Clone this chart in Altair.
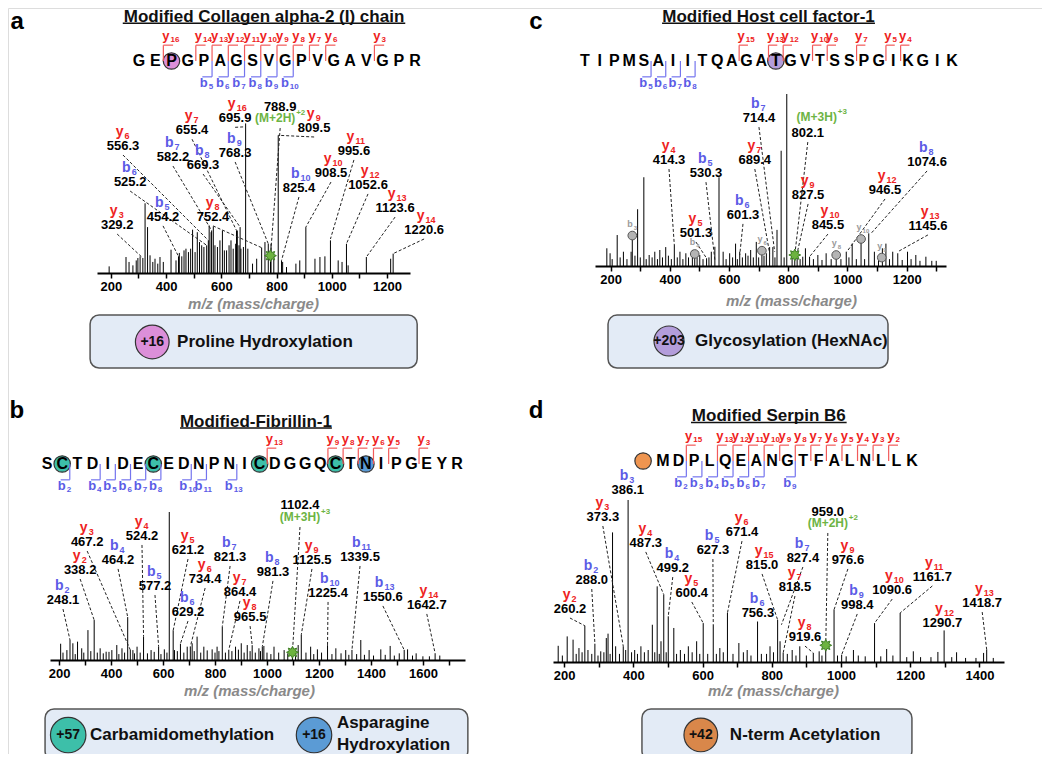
import altair as alt
import pandas as pd

W, H = 1034, 746
FONT = "Liberation Sans, Arial, DejaVu Sans, sans-serif"
RED, BLUE, GREEN = "#ee2222", "#5b5be6", "#6db444"
RED_BR, BLUE_BR = "#f25a5a", "#7474ee"
PINK, PURPLE, TEAL, NBLUE, ORANGE, ORANGE2 = "#dc8fd9", "#b39ddb", "#3dbfa9", "#5b9bd5", "#d9874a", "#ef9550"
STAR = ("M0,-1L0.22,-0.53L0.71,-0.71L0.53,-0.22L1,0L0.53,0.22L0.71,0.71L0.22,0.53"
        "L0,1L-0.22,0.53L-0.71,0.71L-0.53,0.22L-1,0L-0.53,-0.22L-0.71,-0.71L-0.22,-0.53Z")

# ---------------- panel a : Collagen alpha-2 (I) chain ----------------
A_TITLE = "Modified Collagen alpha-2 (I) chain"
A_SEQ = "GEPGPAGSVGPVGAVGPR"
A_MODS = [(2, PINK)]
A_Y_IONS = [16, 14, 13, 12, 11, 10, 9, 8, 7, 6, 3]
A_B_IONS = [5, 6, 7, 8, 9, 10]
A_PEAKS = [(194, 3.9), (255, 9.4), (266, 6.5), (280, 4.5), (292, 7.4), (298, 8.8), (306, 9.8), (316, 8.8),
           (324, 41), (333, 27), (342, 10.4), (352, 6.5), (360, 8.4), (370, 5.5), (378, 9.4), (390, 6.5),
           (418, 13.7), (436, 7.4), (445, 9.8), (448, 11.8), (457, 9.8), (465, 13.3), (472, 14.3), (481, 12.3),
           (489, 14.3), (496, 25.5), (505, 12.3), (513, 24), (521, 18.2), (529, 16.3), (537, 15.3), (547, 16.3),
           (553, 19.2), (556, 28), (563, 24), (565, 25), (571, 27.4), (577, 16.3), (586, 15.3), (595, 19.2),
           (604, 25), (611, 13.3), (619, 13.3), (628, 16.3), (635, 19.2), (643, 14.3), (652, 17.2), (655, 25),
           (658, 25), (664, 16.3), (668, 27), (671, 14.3), (680, 15.3), (688, 88), (696, 14.3), (713, 5.5),
           (728, 8.4), (746, 14.9), (758, 18.2), (770, 17.2), (778, 9), (780, 17.2), (790, 10.4), (806, 81),
           (818, 7.4), (822, 6.5), (836, 3.5), (870, 5.5), (884, 7.4), (906, 27), (939, 8.4), (957, 9.4),
           (975, 9.8), (995, 19.2), (1023, 7.4), (1037, 6.5), (1053, 17.2), (1059, 4.5), (1125, 9.4),
           (1213, 8.4), (1222, 11.4)]
# (ion, labelled m/z, peak m/z, peak intensity)
A_ANN = [("y6", "556.3", 553, 19.2), ("b7", "582.2", 565, 25), ("b8", "669.3", 668, 27),
         ("b9", "768.3", 770, 17.2), ("y7", "655.4", 655, 25), ("y16", "695.9", 688, 86),
         ("M2", "788.9", 778, 10.2), ("y9", "809.5", 806, 81), ("y11", "995.6", 995, 20),
         ("y10", "908.5", 906, 27), ("b10", "825.4", 818, 7.4), ("y12", "1052.6", 1053, 17.2),
         ("b6", "525.2", 547, 16.3), ("y13", "1123.6", 1125, 9.4), ("y14", "1220.6", 1222, 11.4),
         ("b5", "454.2", 445, 9.8), ("y8", "752.4", 746, 14.9), ("y3", "329.2", 316, 8.8)]
A_ANN_POS = [(244, 74.7), (425, 68.2), (534, 63.5), (650, 70.6), (494, 84), (650, 91),
             (813, 97.6), (936, 85.3), (1080, 71.8), (997, 58.8), (881, 50), (1131, 51.8),
             (270, 53.5), (1229, 38.2), (1334, 25.3), (389, 33), (570, 33), (223, 28.2)]
A_BOX = (125, 1309, -24.7, -55.9)
A_PTM = [("+16", PINK)]
A_PTM_POS = [(350, -40.6)]
A_PTM_TXT = [(440, -40.6, "Proline Hydroxylation")]

# ---------------- panel c : Host cell factor-1 ----------------
C_TITLE = "Modified Host cell factor-1"
C_SEQ = "TIPMSAIITQAGATGVTSSPGIKGIK"
C_MODS = [(13, PURPLE)]
C_Y_IONS = [15, 13, 12, 10, 9, 7, 5, 4]
C_B_IONS = [5, 6, 7, 8]
C_PEAKS = [(187, 10.3), (198, 7.4), (205, 4), (222, 18), (232, 5), (243, 8.3), (255, 4), (269, 8.3),
           (273, 17.7), (282, 6), (291, 33), (300, 5), (312, 51.6), (320, 4), (330, 6.4), (340, 5),
           (349, 8.3), (358, 4), (366, 9.3), (375, 5), (386, 11), (395, 6), (405, 4), (415, 12.2),
           (425, 5), (434, 8.3), (444, 4), (454, 7.4), (463, 5), (476, 9.3), (484, 7), (492, 5),
           (501, 6.4), (512, 4), (524, 4.5), (532, 5), (540, 8.3), (552, 11.2), (566, 51.6), (580, 8.3),
           (590, 4), (602, 7.4), (612, 5), (622, 13), (628, 4), (636, 8.3), (645, 5), (656, 7.4),
           (664, 6), (673, 9.3), (682, 5), (692, 14), (700, 5), (711, 8.9), (718, 6), (726, 7.4),
           (737, 11), (748, 11), (755, 5), (762, 21), (776, 67), (786, 5), (795, 100), (813, 8.3),
           (822, 6), (830, 7.4), (840, 4), (849, 5.4), (858, 10.3), (872, 5.4), (885, 4), (900, 6.4),
           (914, 3.5), (928, 7.4), (945, 4), (962, 6.4), (978, 4), (996, 8.3), (1005, 5), (1016, 13),
           (1030, 4), (1046, 15.7), (1058, 4), (1072, 19), (1091, 8.3), (1105, 4), (1118, 10.3),
           (1130, 13), (1142, 4), (1153, 8.3), (1170, 7.4), (1185, 3.5), (1203, 8.3), (1215, 4),
           (1231, 6.4), (1245, 3), (1265, 5.4), (1285, 3), (1300, 3)]
C_ANN = [("b7", "714.4", 754, 8.3), ("M3", "802.1", 822, 6.4), ("y4", "414.3", 415, 12.2),
         ("b5", "530.3", 552, 3.5), ("y7", "689.4", 737, 7.4), ("b8", "1074.6", 1080, 19),
         ("y9", "827.5", 830, 7.4), ("y12", "946.5", 998, 8.3), ("b6", "601.3", 636, 6.4),
         ("y10", "845.5", 872, 5.4), ("y13", "1145.6", 1170, 8.3), ("y5", "501.3", 524, 4.5)]
C_ANN_POS = [(701, 86), (866, 77.3), (397, 61.6), (522, 54), (687, 61.6), (1269, 60.5),
             (867, 41.3), (1127, 44.2), (647, 29.7), (934, 23.8), (1272, 23.3), (488, 19.2)]
C_GRAY = [("b3", 273, 17.7), ("b4", 484, 7), ("y6", 711, 8.9), ("y8", 962, 6.4), ("y10", 1046, 15.7), ("y9", 1116, 4.9)]
C_BOX = (191, 1137, -28.5, -59.3)
C_PTM = [("+203", PURPLE)]
C_PTM_POS = [(397, -43.6)]
C_PTM_TXT = [(485, -43.6, "Glycosylation (HexNAc)")]

# ---------------- panel b : Fibrillin-1 ----------------
B_TITLE = "Modified-Fibrillin-1"
B_SEQ = "SCTDIDECEDNPNICDGGQCTNIPGEYR"
B_MODS = [(1, TEAL), (7, TEAL), (14, TEAL), (19, TEAL), (21, NBLUE)]
B_Y_IONS = [13, 9, 8, 7, 6, 5, 3]
B_B_IONS = [2, 4, 5, 6, 7, 8, 10, 11, 13]
B_PEAKS = [(206, 11), (215, 5), (230, 6.7), (242, 13.5), (253, 11.3), (262, 4), (271, 12.4), (287, 7.9),
           (295, 5), (311, 20.2), (322, 6), (335, 27), (347, 5), (358, 7.9), (370, 4.5), (381, 5.6),
           (392, 5.5), (403, 6.7), (422, 10.1), (430, 4), (442, 7.9), (452, 5), (464, 29), (474, 6.8),
           (484, 6.7), (490, 4.5), (500, 9), (512, 5), (525, 15.8), (540, 4.5), (554, 6.7), (566, 5.5),
           (583, 9), (592, 4), (605, 7.2), (615, 5), (624, 100), (639, 20), (644, 6.7), (655, 6),
           (667, 11), (680, 5), (693, 9), (705, 9), (712, 11.3), (720, 6), (731, 15.8), (745, 5),
           (757, 9), (770, 6.5), (789, 7.2), (800, 5), (808, 9), (815, 6), (828, 22.5), (840, 5),
           (853, 6.8), (865, 6), (879, 9), (890, 7), (901, 11.3), (912, 5), (924, 10.1), (935, 6),
           (943, 10), (955, 5), (969, 7.9), (975, 6), (982, 9), (988, 9.5), (1000, 5), (1015, 4),
           (1027, 9), (1045, 5), (1066, 6.7), (1080, 4.5), (1098, 5.2), (1110, 6), (1120, 10.1),
           (1132, 17), (1150, 5), (1168, 9), (1180, 4), (1194, 7.2), (1210, 5), (1233, 10), (1250, 4),
           (1265, 7.9), (1285, 4.5), (1303, 6.7), (1315, 3.5), (1327, 6.8), (1345, 4), (1361, 13.5),
           (1375, 3.5), (1393, 6.7), (1410, 3), (1438, 7.2), (1455, 3.5), (1474, 9.5), (1490, 3),
           (1509, 4.5), (1528, 6.8), (1541, 7.2), (1560, 3), (1574, 4.5), (1600, 2.5), (1625, 2.5),
           (1647, 4.5), (1665, 3)]
B_ANN = [("M3", "1102.4", 1098, 5.2), ("y3", "467.2", 474, 6.8), ("y4", "524.2", 525, 15.8),
         ("y2", "338.2", 335, 27), ("b4", "464.2", 464, 29), ("y5", "621.2", 639, 20),
         ("b7", "821.3", 828, 22.5), ("y6", "734.4", 705, 9), ("b5", "577.2", 583, 9),
         ("b8", "981.3", 982, 9), ("y9", "1125.5", 1132, 17), ("b11", "1339.5", 1327, 6.8),
         ("y7", "864.4", 853, 6.8), ("b10", "1225.4", 1233, 10), ("b13", "1550.6", 1528, 6.8),
         ("y14", "1642.7", 1647, 4.5), ("b2", "248.1", 242, 13.5), ("b6", "629.2", 667, 11),
         ("y8", "965.5", 943, 10)]
B_ANN_POS = [(1127, 104.7), (308, 79.7), (519, 83.8), (281, 60.8), (427, 67.6), (696, 74.3),
             (858, 69.6), (762, 54.7), (569, 50), (1023, 59.5), (1173, 67.6), (1358, 69.6),
             (896, 46), (1235, 45.3), (1446, 42.6), (1615, 37.2), (215, 40.5), (696, 32.4), (935, 29)]
B_BOX = (146, 1773, -33.1, -67.6)
B_PTM = [("+57", TEAL), ("+16", NBLUE)]
B_PTM_POS = [(235, -50.7), (1181, -50.7)]
B_PTM_TXT = [(319, -50.7, "Carbamidomethylation"), (1269, -42.6, "Asparagine"), (1269, -57.4, "Hydroxylation")]

# ---------------- panel d : Serpin B6 ----------------
D_TITLE = "Modified Serpin B6"
D_SEQ = "MDPLQEANGTFALNLLK"
D_MODS = [(-1.28, ORANGE2)]
D_Y_IONS = [15, 13, 12, 11, 10, 9, 8, 7, 6, 5, 4, 3, 2]
D_B_IONS = [2, 3, 4, 5, 6, 7, 9]
D_PEAKS = [(183, 10), (195, 4), (209, 15.8), (226, 13.8), (235, 5), (243, 8.6), (252, 6), (260, 22.4),
           (269, 7.4), (280, 5), (289, 11.3), (298, 4), (306, 6.6), (315, 6), (322, 14.8), (327, 17.5),
           (333, 5), (340, 80), (349, 9.7), (360, 5), (371, 9.7), (378, 7.4), (385, 100), (395, 6),
           (404, 7.4), (412, 5), (422, 9.7), (432, 6), (443, 7.4), (455, 23), (462, 6), (469, 46.7),
           (475, 5), (480, 12.8), (488, 41.6), (495, 6), (501, 28.2), (517, 21), (525, 5), (536, 7.4),
           (548, 5), (559, 9.7), (570, 6), (583, 12.8), (592, 5), (602, 24), (615, 5), (631, 23),
           (640, 5), (650, 8.6), (660, 6), (672, 30.3), (688, 5), (705, 11.7), (718, 6), (729, 7.4),
           (740, 4), (759, 25), (770, 5), (785, 5), (795, 9.7), (805, 6), (817, 26), (824, 12.8),
           (833, 5.6), (845, 5), (859, 7.4), (870, 4), (881, 9.7), (900, 4), (920, 5.6), (937, 6.6),
           (945, 4), (956, 10.3), (980, 32.3), (990, 4), (1002, 4.5), (1015, 3.5), (1036, 7.4),
           (1050, 4), (1070, 3.5), (1097, 24), (1115, 3.5), (1132, 8), (1150, 4), (1171, 30.3),
           (1190, 3), (1209, 6.6), (1230, 3), (1260, 3), (1280, 6.2), (1298, 19.5), (1320, 3),
           (1334, 6), (1360, 2.5), (1390, 2.5), (1412, 5.6), (1421, 7.6), (1440, 2.5)]
D_ANN = [("b3", "386.1", None, None), ("y3", "373.3", 371, 9.7), ("M2", "959.0", 956, 10.3),
         ("y6", "671.4", 672, 30.3), ("y4", "487.3", 488, 41.6), ("b5", "627.3", 631, 23),
         ("y15", "815.0", 817, 26), ("b7", "827.4", 828, 23), ("y9", "976.6", 980, 32.3),
         ("b4", "499.2", 501, 28.2), ("b2", "288.0", 289, 11.3), ("y7", "818.5", 833, 5.6),
         ("y10", "1090.6", 1097, 24), ("y11", "1161.7", 1171, 30.3), ("y5", "600.4", 602, 24),
         ("b9", "998.4", 1002, 4.5), ("y13", "1418.7", 1421, 7.6), ("b6", "756.3", None, None),
         ("y12", "1290.7", None, None), ("y2", "260.2", 260, 22.4), ("y8", "919.6", 920, 5.6)]
D_ANN_POS = [(384, 106), (312, 89.5), (962, 92.6), (714, 80.2), (436, 73.5), (630, 69.1),
             (772, 59.9), (890, 64.2), (1020, 63), (514, 58), (280, 50.6), (867, 46.3),
             (1148, 44.4), (1264, 52.5), (569, 42.6), (1047, 35.2), (1408, 36.4), (760, 30.2),
             (1293, 24.1), (217, 32.7), (896, 15.4)]
D_BOX = (425, 1205, -29, -60.5)
D_PTM = [("+42", ORANGE)]
D_PTM_POS = [(595, -45)]
D_PTM_TXT = [(679, -45, "N-term Acetylation")]

PANELS = [
    dict(title=A_TITLE, seq=A_SEQ, mods=A_MODS, y_ions=A_Y_IONS, b_ions=A_B_IONS, peaks=A_PEAKS,
         ann=A_ANN, ann_pos=A_ANN_POS, gray=[], box=A_BOX, ptm=A_PTM, ptm_pos=A_PTM_POS, ptm_txt=A_PTM_TXT,
         letter="a", mz_dom=[150, 1283], x_rng=[89, 402], y_rng=[265, 95], ticks=list(range(200, 1201, 100)),
         seq_rng=[131, 407], seq_y=53, title_pos=(7.7, 2.0, 8.7, 1.72), letter_pos=(-7.5, 1.76),
         ax_title=(245, 30), prec_dx=-5, prec_dy=11, prec_gap=21, ptm_size=1134),
    dict(title=C_TITLE, seq=C_SEQ, mods=C_MODS, y_ions=C_Y_IONS, b_ions=C_B_IONS, peaks=C_PEAKS,
         ann=C_ANN, ann_pos=C_ANN_POS, gray=C_GRAY, box=C_BOX, ptm=C_PTM, ptm_pos=C_PTM_POS, ptm_txt=C_PTM_TXT,
         letter="c", mz_dom=[147, 1333], x_rng=[587, 938], y_rng=[258, 86], ticks=list(range(200, 1301, 100)),
         seq_rng=[577, 944], seq_y=53, title_pos=(12.5, 2.0, 7.25, 1.72), letter_pos=(-3.34, 1.76),
         ax_title=(783, 34), prec_dx=9, prec_dy=-16, prec_gap=9, ptm_size=900),
    dict(title=B_TITLE, seq=B_SEQ, mods=B_MODS, y_ions=B_Y_IONS, b_ions=B_B_IONS, peaks=B_PEAKS,
         ann=B_ANN, ann_pos=B_ANN_POS, gray=[], box=B_BOX, ptm=B_PTM, ptm_pos=B_PTM_POS, ptm_txt=B_PTM_TXT,
         letter="b", mz_dom=[165, 1762], x_rng=[42, 457], y_rng=[652, 504], ticks=list(range(200, 1701, 100)),
         seq_rng=[39, 449], seq_y=456, title_pos=(13.76, 1.91, 5.0, 1.64), letter_pos=(-1.98, 2.41),
         ax_title=(241, 30), prec_dx=0, prec_dy=12, prec_gap=22, ptm_size=1257),
    dict(title=D_TITLE, seq=D_SEQ, mods=D_MODS, y_ions=D_Y_IONS, b_ions=D_B_IONS, peaks=D_PEAKS,
         ann=D_ANN, ann_pos=D_ANN_POS, gray=[], box=D_BOX, ptm=D_PTM, ptm_pos=D_PTM_POS, ptm_txt=D_PTM_TXT,
         letter="d", mz_dom=[168, 1471], x_rng=[545, 996], y_rng=[654, 492], ticks=list(range(200, 1401, 100)),
         seq_rng=[655, 904], seq_y=453, title_pos=(6.8, 2.05, 5.0, 1.75), letter_pos=(-8.16, 2.27),
         ax_title=(765, 28), prec_dx=0, prec_dy=11, prec_gap=21, ptm_size=1134),
]


def ion_color(name):
    return {"y": RED, "b": BLUE, "M": GREEN}[name[0]]


def sub_label_layers(df, xf, yf, xs, ys, main_size, sub_size, dy, color=None, color_field=None):
    """Ion label drawn as a letter with a subscript number (two text marks)."""
    enc_x = alt.X(xf, type="quantitative", scale=xs, axis=None)
    enc_y = alt.Y(yf, type="quantitative", scale=ys, axis=None)
    kw = {}
    mk = {}
    if color_field:
        kw["color"] = alt.Color(color_field + ":N", scale=None)
    else:
        mk["color"] = color
    main = alt.Chart(df).mark_text(font=FONT, fontSize=main_size, fontWeight="bold", align="right",
                                   dx=0.5, dy=dy, **mk).encode(x=enc_x, y=enc_y, text="main:N", **kw)
    subm = alt.Chart(df).mark_text(font=FONT, fontSize=sub_size, fontWeight="bold", align="left",
                                   dx=1.5, dy=dy + 4, **mk).encode(x=enc_x, y=enc_y, text="sub:N", **kw)
    return [main, subm]


def panel_layers(P):
    xs = alt.Scale(domain=P["mz_dom"], range=P["x_rng"], nice=False, zero=False)
    ys = alt.Scale(domain=[0, 100], range=P["y_rng"], nice=False, zero=False)
    ppu = (P["y_rng"][0] - P["y_rng"][1]) / 100.0
    L = len(P["seq"])
    hxs = alt.Scale(domain=[0, L - 1], range=P["seq_rng"], nice=False, zero=False)
    hys = alt.Scale(domain=[0, 1], range=[P["seq_y"], P["seq_y"] - 22], nice=False, zero=False)

    def X(f, s=xs, axis=None):
        return alt.X(f, type="quantitative", scale=s, axis=axis)

    def Y(f, s=ys):
        return alt.Y(f, type="quantitative", scale=s, axis=None)

    out = []
    axis = alt.Axis(orient="bottom", offset=P["y_rng"][0] - H, values=P["ticks"], format="d",
                    labelExpr="datum.value % 200 === 0 ? datum.label : ''",
                    title="m/z (mass/charge)", titleFont=FONT, titleFontSize=15, titleFontWeight="bold",
                    titleFontStyle="italic", titleColor="#8a8a8a", titleX=P["ax_title"][0],
                    titleY=P["ax_title"][1], titleBaseline="middle",
                    labelFont=FONT, labelFontSize=13, labelFontWeight="bold", labelColor="black",
                    labelPadding=2, labelFlush=False, labelOverlap=False, domainColor="black",
                    domainWidth=2, tickColor="black", tickWidth=1.5, tickSize=5, grid=False)

    # spectrum peaks
    pk = pd.DataFrame(P["peaks"], columns=["mz", "it"])
    pk["z"] = 0.0
    out.append(alt.Chart(pk).mark_rule(color="black", strokeWidth=1).encode(
        x=X("mz", axis=axis), y=Y("it"), y2=alt.Y2("z")))

    # annotations
    ann = pd.DataFrame(P["ann"], columns=["ion", "val", "tmz", "tint"])
    pos = pd.DataFrame(P["ann_pos"], columns=["lmz", "lint"])
    ann = pd.concat([ann, pos], axis=1)
    ann["tmz"] = pd.to_numeric(ann["tmz"])
    ann["tint"] = pd.to_numeric(ann["tint"])
    ann["main"] = ann["ion"].str[0]
    ann["sub"] = ann["ion"].str[1:]
    ann["col"] = ann["ion"].map(ion_color)
    prec = ann["ion"].str.startswith("M")
    gaps = [P["prec_gap"] if p else 9 for p in prec]
    ann["sy"] = ann["lint"] - pd.Series(gaps) / ppu
    conn = ann.dropna(subset=["tmz"])
    out.append(alt.Chart(conn).mark_rule(color="#222", strokeWidth=1, strokeDash=[3, 2]).encode(
        x=X("lmz"), y=Y("sy"), x2=alt.X2("tmz"), y2=alt.Y2("tint")))
    pr = ann[prec].copy()
    pr["name"] = "(M+" + pr["sub"] + "H)"
    pr["sup"] = "+" + pr["sub"]
    out.append(alt.Chart(pr).mark_point(shape=STAR, filled=True, fill="#6db33f", stroke="#3f7f25",
                                        strokeWidth=1, size=140, opacity=1).encode(
        x=X("tmz"), y=Y("tint")))

    if P["gray"]:
        g = pd.DataFrame(P["gray"], columns=["ion", "mz", "it"])
        g["main"] = g["ion"].str[0]
        g["sub"] = g["ion"].str[1:]
        out.append(alt.Chart(g).mark_point(filled=True, fill="#b4b4b4", stroke="#555", strokeWidth=1,
                                           size=75, opacity=1).encode(x=X("mz"), y=Y("it")))
        out += sub_label_layers(g, "mz", "it", xs, ys, 9, 6, -12, color="#9a9a9a")

    out += sub_label_layers(ann[~prec], "lmz", "lint", xs, ys, 14, 9, -14, color_field="col")
    out.append(alt.Chart(pr).mark_text(font=FONT, fontSize=12, fontWeight="bold", color=GREEN,
                                       dx=P["prec_dx"], dy=P["prec_dy"]).encode(
        x=X("lmz"), y=Y("lint"), text="name:N"))
    out.append(alt.Chart(pr).mark_text(font=FONT, fontSize=8, fontWeight="bold", color=GREEN, align="left",
                                       dx=P["prec_dx"] + 21, dy=P["prec_dy"] - 5).encode(
        x=X("lmz"), y=Y("lint"), text="sup:N"))
    out.append(alt.Chart(ann).mark_text(font=FONT, fontSize=13, fontWeight="bold", color="black").encode(
        x=X("lmz"), y=Y("lint"), text="val:N"))

    # PTM legend box
    bx = pd.DataFrame([P["box"]], columns=["x0", "x1", "y0", "y1"])
    out.append(alt.Chart(bx).mark_rect(cornerRadius=9, fill="#e3ebf6", stroke="#555", strokeWidth=1.5).encode(
        x=X("x0"), x2=alt.X2("x1"), y=Y("y0"), y2=alt.Y2("y1")))
    pc = pd.DataFrame([(a[0], a[1], b[0], b[1]) for a, b in zip(P["ptm"], P["ptm_pos"])],
                      columns=["t", "col", "mz", "it"])
    out.append(alt.Chart(pc).mark_point(filled=True, stroke="#333", strokeWidth=1.2, size=P["ptm_size"],
                                        opacity=1).encode(
        x=X("mz"), y=Y("it"), fill=alt.Fill("col:N", scale=None)))
    out.append(alt.Chart(pc).mark_text(font=FONT, fontSize=14, fontWeight="bold", color="#111").encode(
        x=X("mz"), y=Y("it"), text="t:N"))
    pt = pd.DataFrame(P["ptm_txt"], columns=["mz", "it", "t"])
    out.append(alt.Chart(pt).mark_text(font=FONT, fontSize=17, fontWeight="bold", color="#111",
                                       align="left").encode(x=X("mz"), y=Y("it"), text="t:N"))

    # ---- header: peptide sequence with fragment ladder ----
    md = pd.DataFrame(P["mods"], columns=["i", "col"])
    md["r"] = 0.0
    out.append(alt.Chart(md).mark_point(filled=True, stroke="#333", strokeWidth=1.2, size=270,
                                        opacity=1).encode(
        x=X("i", hxs), y=Y("r", hys), fill=alt.Fill("col:N", scale=None)))
    sq = pd.DataFrame({"i": list(range(L)), "ch": list(P["seq"])})
    sq["r"] = 0.0
    out.append(alt.Chart(sq).mark_text(font=FONT, fontSize=16, fontWeight="bold", color="black").encode(
        x=X("i", hxs), y=Y("r", hys), text="ch:N"))

    yb = pd.DataFrame({"n": P["y_ions"]})
    yb["p"] = L - yb["n"] - 0.5
    yb["p2"] = yb["p"] + 0.6
    yb["top"] = 0.72
    yb["bot"] = 0.0
    yb["lx"] = yb["p"] + 0.35
    yb["lr"] = 1.05
    yb["main"] = "y"
    yb["sub"] = yb["n"].astype(str)
    bb = pd.DataFrame({"n": P["b_ions"]})
    bb["p"] = bb["n"] - 0.5
    bb["p2"] = bb["p"] - 0.6
    bb["top"] = 0.0
    bb["bot"] = -0.72
    bb["lx"] = bb["p"] - 0.3
    bb["lr"] = -1.08
    bb["main"] = "b"
    bb["sub"] = bb["n"].astype(str)
    for df, col, lcol, hrow in ((yb, RED_BR, RED, "top"), (bb, BLUE_BR, BLUE, "bot")):
        out.append(alt.Chart(df).mark_rule(color=col, strokeWidth=1.2).encode(
            x=X("p", hxs), y=Y("top", hys), y2=alt.Y2("bot")))
        out.append(alt.Chart(df).mark_rule(color=col, strokeWidth=1.2).encode(
            x=X("p", hxs), x2=alt.X2("p2"), y=Y(hrow, hys)))
        out += sub_label_layers(df, "lx", "lr", hxs, hys, 13, 8, -2, color=lcol)

    tc, trow, hw, urow = P["title_pos"]
    tt = pd.DataFrame([{"x": tc, "r": trow, "t": P["title"], "u0": tc - hw, "u1": tc + hw, "ur": urow}])
    out.append(alt.Chart(tt).mark_text(font=FONT, fontSize=17, fontWeight="bold", color="#111").encode(
        x=X("x", hxs), y=Y("r", hys), text="t:N"))
    out.append(alt.Chart(tt).mark_rule(color="#111", strokeWidth=1.5).encode(
        x=X("u0", hxs), x2=alt.X2("u1"), y=Y("ur", hys)))
    lt = pd.DataFrame([{"x": P["letter_pos"][0], "r": P["letter_pos"][1], "t": P["letter"]}])
    out.append(alt.Chart(lt).mark_text(font=FONT, fontSize=24, fontWeight="bold", color="black").encode(
        x=X("x", hxs), y=Y("r", hys), text="t:N"))
    return out


layers = []
for P in PANELS:
    layers.extend(panel_layers(P))

chart = alt.layer(*layers).resolve_scale(x="independent", y="independent").properties(
    width=W, height=H, autosize=alt.AutoSizeParams(type="none"), padding=0
).configure_view(stroke=None).configure(background="white")

chart.save("out.html", embed_options={"renderer": "svg", "actions": False})
